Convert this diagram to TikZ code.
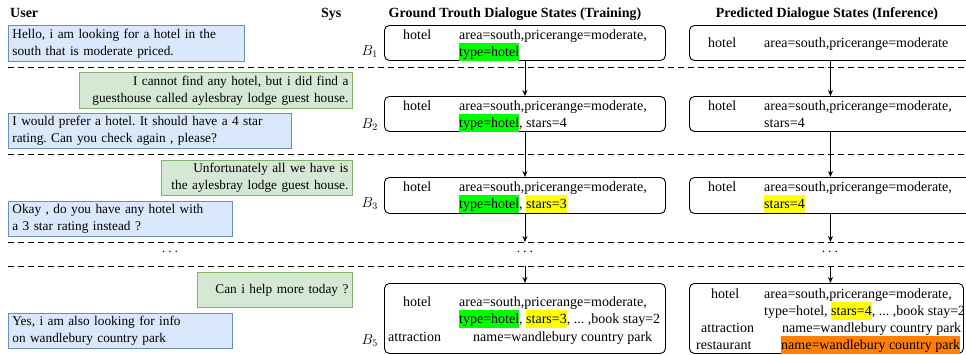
\documentclass[tikz,border=0pt]{standalone}
\usepackage{fontspec}
\setmainfont{Liberation Serif}
\usetikzlibrary{arrows.meta}

\definecolor{userfill}{HTML}{DAE8FC}
\definecolor{userline}{HTML}{6C8EBF}
\definecolor{sysfill}{HTML}{D5E8D4}
\definecolor{sysline}{HTML}{82B366}
\definecolor{hlgreen}{HTML}{00FF00}
\definecolor{hlyellow}{HTML}{FFFF00}
\definecolor{hlorange}{HTML}{FF8000}

% highlighted slot value
\newcommand\slothl[2]{{\setlength{\fboxsep}{0pt}\colorbox{#1}{\rule[-4.5pt]{0pt}{17.5pt}#2}}}
% unbreakable message lines, flush left or flush right
\newcommand\lline[1]{\makebox[\hsize][l]{#1}}
\newcommand\rline[1]{\makebox[\hsize][r]{#1}}

\tikzset{
  msg/.style={draw, line width=0.8pt, inner xsep=4pt, inner ysep=0pt, anchor=north west,
    font=\fontsize{13.3pt}{17pt}\selectfont\frenchspacing},
  usermsg/.style={msg, fill=userfill, draw=userline, align=left},
  sysmsg/.style={msg, fill=sysfill, draw=sysline, align=right},
  statebox/.style={draw, line width=0.9pt, rounded corners=5pt, anchor=north west, inner sep=0pt},
  txt/.style={inner sep=0pt, anchor=base west},
  hdr/.style={inner sep=0pt, anchor=base, font=\fontsize{14pt}{17pt}\selectfont\bfseries},
  blabel/.style={inner sep=0pt, anchor=base east},
  cutline/.style={dashed, dash pattern=on 6pt off 4pt, line width=0.8pt},
  flow/.style={line width=0.9pt, -{Stealth[length=6pt,width=5pt]}},
  dotsnode/.style={inner sep=0pt, anchor=center}
}

\begin{document}
\begin{tikzpicture}[x=1pt, y=-1pt, font=\fontsize{14pt}{17pt}\selectfont\frenchspacing]
\useasboundingbox (0,0) rectangle (966,354);
\clip (0,0) rectangle (966,354);

% column headers
\node[hdr, anchor=base west] (huser) at (10,17) {User};
\node[hdr, anchor=base west] (hsys) at (321,17) {Sys};
\node[hdr] (hgt) at (515,17) {Ground Trouth Dialogue States (Training)};
\node[hdr] (hpred) at (827,17) {Predicted Dialogue States (Inference)};

% turn separators
\draw[cutline] (8,67) -- (966,67);
\draw[cutline] (8,154) -- (966,154);
\draw[cutline] (8,242) -- (966,242);
\draw[cutline] (8,266) -- (966,266);
\coordinate (cut3) at (0,242);
\coordinate (cut4) at (0,266);

% dialogue turns
\node[usermsg, minimum width=236pt, text width=228pt, minimum height=36pt] (u1) at (8,25)
  {\lline{Hello, i am looking for a hotel in the}\\\lline{south that is moderate priced.}};
\node[sysmsg, minimum width=273pt, text width=265pt, minimum height=36pt] (s1) at (79,72)
  {\rline{I cannot find any hotel, but i did find a}\\\rline{guesthouse called aylesbray lodge guest house.}};
\node[usermsg, minimum width=283pt, text width=275pt, minimum height=35pt] (u2) at (8,113)
  {\lline{I would prefer a hotel. It should have a 4 star}\\\lline{rating. Can you check again , please?}};
\node[sysmsg, minimum width=191pt, text width=183pt, minimum height=35pt] (s2) at (161,160)
  {\rline{Unfortunately all we have is}\\\rline{the aylesbray lodge guest house.}};
\node[usermsg, minimum width=224pt, text width=216pt, minimum height=35pt] (u3) at (8,201)
  {\lline{Okay , do you have any hotel with}\\\lline{a 3 star rating instead ?}};
\node[sysmsg, minimum width=155pt, text width=147pt, minimum height=35pt] (s3) at (197,272)
  {\rline{Can i help more today ?}};
\node[usermsg, minimum width=224pt, text width=216pt, minimum height=35pt] (u4) at (8,313)
  {\lline{Yes, i am also looking for info}\\\lline{on wandlebury country park}};

\node[dotsnode] (dl) at (170,252) {$\cdots$};

% ground truth dialogue states
\node[statebox, minimum width=281pt, minimum height=35pt] (g1) at (384,25) {};
\node[statebox, minimum width=281pt, minimum height=35pt] (g2) at (384,96) {};
\node[statebox, minimum width=281pt, minimum height=36pt] (g3) at (384,177) {};
\node[statebox, minimum width=281pt, minimum height=70pt] (g5) at (384,283) {};

\node[blabel] (b1) at (378,55) {$B_1$};
\node[blabel] (b2) at (378,128) {$B_2$};
\node[blabel] (b3) at (378,207) {$B_3$};
\node[blabel] (b5) at (378,344) {$B_5$};

\node[txt] (g1d) at (403,39) {hotel};
\node[txt] (g1a) at (459,39) {area=south,pricerange=moderate,};
\node[txt] (g1b) at (459,56) {\slothl{hlgreen}{type=hotel}};

\node[txt] (g2d) at (403,110) {hotel};
\node[txt] (g2a) at (459,110) {area=south,pricerange=moderate,};
\node[txt] (g2b) at (459,127) {\slothl{hlgreen}{type=hotel}, stars=4};

\node[txt] (g3d) at (403,191) {hotel};
\node[txt] (g3a) at (459,191) {area=south,pricerange=moderate,};
\node[txt] (g3b) at (459,208) {\slothl{hlgreen}{type=hotel}, \slothl{hlyellow}{stars=3}};

\node[txt] (g5d) at (403,306) {hotel};
\node[txt] (g5a) at (459,306) {area=south,pricerange=moderate,};
\node[txt] (g5b) at (459,323) {\slothl{hlgreen}{type=hotel}, \slothl{hlyellow}{stars=3}, ... ,book stay=2};
\node[txt] (g5e) at (388,341) {attraction};
\node[txt] (g5c) at (473,341) {name=wandlebury country park};

\node[dotsnode] (dg) at (525,252) {$\cdots$};

\draw[flow] (g1.south) -- (g2.north);
\draw[flow] (g2.south) -- (g3.north);
\draw[flow] (g3.south) -- (g3.south |- cut3);
\draw[flow] (g3.south |- cut4) -- (g5.north);

% predicted dialogue states
\node[statebox, minimum width=282pt, minimum height=35pt] (p1) at (689,25) {};
\node[statebox, minimum width=282pt, minimum height=35pt] (p2) at (689,96) {};
\node[statebox, minimum width=282pt, minimum height=36pt] (p3) at (689,177) {};
\node[statebox, minimum width=274pt, minimum height=70pt] (p5) at (689,283) {};

\node[txt] (p1d) at (708,47) {hotel};
\node[txt] (p1a) at (764,47) {area=south,pricerange=moderate};

\node[txt] (p2d) at (708,110) {hotel};
\node[txt] (p2a) at (764,110) {area=south,pricerange=moderate,};
\node[txt] (p2b) at (764,127) {stars=4};

\node[txt] (p3d) at (708,191) {hotel};
\node[txt] (p3a) at (764,191) {area=south,pricerange=moderate,};
\node[txt] (p3b) at (764,208) {\slothl{hlyellow}{stars=4}};

\node[txt] (p5d) at (711,298) {hotel};
\node[txt] (p5a) at (764,298) {area=south,pricerange=moderate,};
\node[txt] (p5b) at (764,315) {type=hotel, \slothl{hlyellow}{stars=4}, ... ,book stay=2};
\node[txt] (p5e) at (701,332) {attraction};
\node[txt] (p5c) at (782,332) {name=wandlebury country park};
\node[txt] (p5f) at (696,349) {restaurant};
\node[txt] (p5g) at (781,349) {\slothl{hlorange}{name=wandlebury country park}};

\node[dotsnode] (dp) at (830,252) {$\cdots$};

\draw[flow] (p1.south) -- (p2.north);
\draw[flow] (p2.south) -- (p3.north);
\draw[flow] (p3.south) -- (p3.south |- cut3);
\draw[flow] (p3.south |- cut4) -- (p3.south |- p5.north);
\end{tikzpicture}
\end{document}
